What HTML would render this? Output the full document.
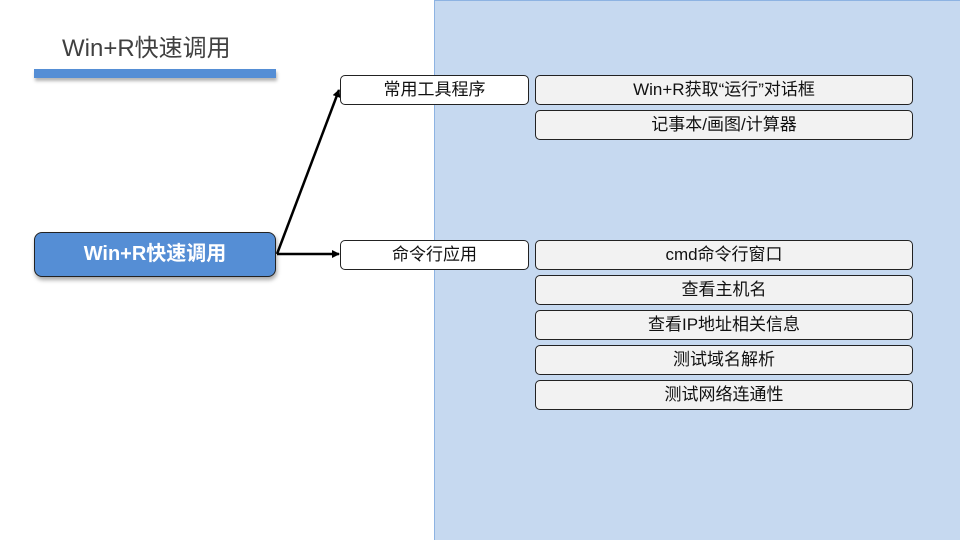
<!DOCTYPE html>
<html><head><meta charset="utf-8"><style>
body{margin:0;width:960px;height:540px;position:relative;background:#fff;overflow:hidden;font-family:"Liberation Sans","Noto Sans CJK SC",sans-serif;}
.panel{position:absolute;left:434px;top:0;width:526px;height:540px;background:#c6d9f0;border-left:1px solid #8db3e2;border-top:1px solid #8db3e2;box-sizing:border-box;}
.title{position:absolute;left:62px;top:28px;font-size:24px;color:#404040;}
.bar{position:absolute;left:34px;top:69px;width:242px;height:9px;background:#558ed5;box-shadow:1px 3px 3px rgba(0,0,0,.3);}
.main{position:absolute;left:34px;top:232px;width:242px;height:45px;box-sizing:border-box;background:#558ed5;border:1px solid #222;border-radius:8px;color:#fff;font-weight:bold;font-size:20px;text-align:center;line-height:43px;box-shadow:1px 3px 4px rgba(0,0,0,.35);}
.n{position:absolute;box-sizing:border-box;border:1px solid #222;border-radius:5px;text-align:center;font-size:17px;color:#111;height:30px;line-height:28px;}
.w{left:340px;width:189px;background:#fff;}
.g{left:535px;width:378px;background:#f2f2f2;}
</style></head><body>
<div class="panel"></div>
<div class="title">Win+R快速调用</div>
<div class="bar"></div>
<svg style="position:absolute;left:0;top:0" width="960" height="540">
<defs><marker id="a" markerWidth="8" markerHeight="8" refX="7" refY="4" orient="auto" markerUnits="userSpaceOnUse"><path d="M0,0 L8,4 L0,8z" fill="#000"/></marker></defs>
<line x1="277" y1="254" x2="339" y2="90" stroke="#000" stroke-width="2.5" marker-end="url(#a)"/>
<line x1="277" y1="254" x2="339" y2="254" stroke="#000" stroke-width="2.5" marker-end="url(#a)"/>
</svg>
<div class="main">Win+R快速调用</div>
<div class="n w" style="top:75px">常用工具程序</div>
<div class="n w" style="top:240px">命令行应用</div>
<div class="n g" style="top:75px">Win+R获取“运行”对话框</div>
<div class="n g" style="top:110px">记事本/画图/计算器</div>
<div class="n g" style="top:240px">cmd命令行窗口</div>
<div class="n g" style="top:275px">查看主机名</div>
<div class="n g" style="top:310px">查看IP地址相关信息</div>
<div class="n g" style="top:345px">测试域名解析</div>
<div class="n g" style="top:380px">测试网络连通性</div>
</body></html>
